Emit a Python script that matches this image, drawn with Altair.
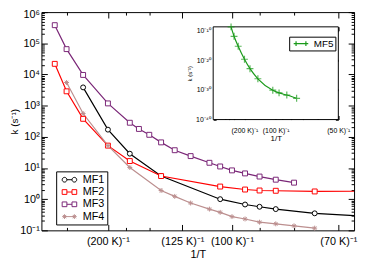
import altair as alt
import pandas as pd

# ---------------- data ----------------
series_main = ["MF1", "MF2", "MF3", "MF4"]
colors_main = ["#000000", "#ff0000", "#7a2677", "#bc8f8f"]

mf1_T = [250, 200, 170, 140, 105, 95, 90, 85, 75]
mf1_k = [3850, 170, 28.8, 5.52, 1.0, 0.675, 0.571, 0.481, 0.352]
mf1_tail_T = [67]
mf1_tail_k = [0.297]

mf2_T = [350, 300, 250, 200, 170, 140, 105, 95, 90, 85, 75]
mf2_k = [2.19e4, 2880, 378, 52.2, 16.7, 5.52, 2.54, 2.04, 1.90, 1.86, 1.77]
mf2_tail_T = [67]
mf2_tail_k = [1.8]

mf3_T = [350, 300, 250, 200, 170, 160, 150, 140, 130, 120, 110, 105, 100, 95, 90, 85, 80]
mf3_k = [3.81e5, 6.5e4, 9.66e3, 1.18e3, 283, 179, 116, 66.4, 37.2, 24.1, 14.7, 11.2,
         8.39, 6.71, 5.32, 4.22, 3.39]

mf4_T = [300, 250, 200, 170, 140, 130, 120, 110, 105, 100, 95, 90, 85, 80, 75]
mf4_k = [5520, 560, 52.2, 10.4, 1.90, 1.23, 0.752, 0.481, 0.378, 0.276, 0.232, 0.183,
         0.162, 0.140, 0.118]

mf5_T = [350, 300, 250, 200, 170, 140, 105, 95, 85, 75]
mf5_k = [2.0e-9, 1.3e-12, 5.5e-16, 2.3e-20, 1.5e-23, 5.9e-27, 8.3e-31, 1.0e-31, 1.9e-32, 1.5e-33]

main_x_ticks = [1 / 200, 1 / 125, 1 / 100, 1 / 70]
main_x_minor = [1 / 300, 1 / 175, 1 / 150, 1 / 90, 1 / 80]
inset_x_ticks = [1 / 200, 1 / 100, 1 / 50]
inset_x_minor = [1 / 500, 1 / 400, 1 / 300, 1 / 90, 1 / 80, 1 / 70, 1 / 60]
main_y_decades = [10.0 ** e for e in range(-1, 7)]
inset_y_decades = [1e-10, 1e-20, 1e-30, 1e-40]


def frame(name, T, k):
    return pd.DataFrame({"series": name, "T": T, "k": k})


pts = pd.concat([frame("MF1", mf1_T, mf1_k), frame("MF2", mf2_T, mf2_k),
                 frame("MF3", mf3_T, mf3_k), frame("MF4", mf4_T, mf4_k)], ignore_index=True)
lines = pd.concat([pts, frame("MF1", mf1_tail_T, mf1_tail_k),
                   frame("MF2", mf2_tail_T, mf2_tail_k)], ignore_index=True)
pts["invT"] = 1.0 / pts["T"]
lines["invT"] = 1.0 / lines["T"]
ins = frame("MF5", mf5_T, mf5_k)
ins["invT"] = 1.0 / ins["T"]

# ---------------- layout ----------------
W, H = 318, 222
XL, XR, YT, YB = 174.7, 302.0, 15.0, 109.3   # inset box inside the plot area
FONT = "Liberation Sans"

x_main = alt.Scale(domain=[0.00232, 0.01492], nice=False, zero=False)
y_main = alt.Scale(type="log", domain=[0.1, 1e6], nice=False)
x_ins = alt.Scale(domain=[0, 0.02], range=[XL, XR], nice=False, zero=False)
y_ins = alt.Scale(type="log", domain=[1e-40, 10 ** -8.7], range=[YB, YT], nice=False)

main_color = alt.Scale(domain=series_main, range=colors_main)
ins_color = alt.Scale(domain=["MF5"], range=["#1a9a1a"])

ast = "M-1,0H1M0,-1V1M-0.7,-0.7L0.7,0.7M-0.7,0.7L0.7,-0.7"
plus = "M-1,0H1M0,-1V1"


def circ(c, r):
    return f"M{c - r},0a{r},{r} 0 1,0 {2 * r},0a{r},{r} 0 1,0 {-2 * r},0"


def sq(c, r):
    return f"M{c - r},{-r}h{2 * r}v{2 * r}h{-2 * r}z"


def astk(c, r):
    d = r * 0.7
    return (f"M{c - r},0H{c + r}M{c},{-r}V{r}M{c - d},{-d}L{c + d},{d}"
            f"M{c - d},{d}L{c + d},{-d}")


C, R = 1.25, 0.6
leg_shapes = [
    circ(-C, R) + f"M{-C + R},0H{C - R}" + circ(C, R),
    sq(-C, R) + f"M{-C + R},0H{C - R}" + sq(C, R),
    sq(-C, R) + f"M{-C + R},0H{C - R}" + sq(C, R),
    astk(-C, R) + f"M{-C},0H{C}" + astk(C, R),
]
leg_shape_ins = [f"M{-C - R},0H{C + R}M{-C},{-R}V{R}M{C},{-R}V{R}"]

sup_map = list(zip("-0123456789", "⁻⁰¹²³⁴⁵⁶⁷⁸⁹"))


def sup_expr(s):
    e = s
    for d, c in sup_map:
        e = f"replace({e}, regexp('{d}', 'g'), '{c}')"
    return e


exp_str = "('' + round(log(datum.value) / LN10))"
y_label_expr = "'10' + " + sup_expr(exp_str)
x_label_expr = "'(' + round(1 / datum.value) + ' K)⁻¹'"

decade_test = "abs(log(datum.value)/LN10 - round(log(datum.value)/LN10)) < 0.001"
main_major_test = "indexof([200,125,100,70], round(1/datum.value)) >= 0"
ins_major_test = "indexof([200,100,50], round(1/datum.value)) >= 0"

y_main_ticks = [m * 10.0 ** e for e in range(-1, 6) for m in range(1, 10)] + [1e6]


def tick_axis(orient, offset, values, test, big, small, width=1):
    return alt.Axis(orient=orient, offset=offset, values=values, labels=False,
                    domain=False, grid=False, title=None, tickColor="black",
                    tickWidth=width,
                    tickSize={"condition": {"test": test, "value": big}, "value": small})


# ---------------- main plot ----------------
main_lines = alt.Chart(lines).mark_line(strokeWidth=1.2, clip=True).encode(
    x=alt.X("invT:Q", scale=x_main,
            axis=alt.Axis(orient="bottom", values=main_x_ticks, labelExpr=x_label_expr,
                          ticks=False, domain=False, grid=False, title="1/T",
                          labelFont=FONT, titleFont=FONT, labelFontSize=11,
                          titleFontSize=11, titleFontWeight="normal", labelPadding=5,
                          titlePadding=3, labelFlush=False, labelOverlap=False,
                          labelColor="black", titleColor="black")),
    y=alt.Y("k:Q", scale=y_main,
            axis=alt.Axis(orient="left", values=main_y_decades, labelExpr=y_label_expr,
                          ticks=False, domain=False, grid=False, title="k (s⁻¹)",
                          labelFont=FONT, titleFont=FONT, labelFontSize=11,
                          titleFontSize=10, titleFontWeight="normal", labelPadding=2,
                          titlePadding=0.5, labelFlush=False, labelOverlap=False,
                          labelOffset={"condition": {"test": "datum.value > 5e5", "value": 2.5},
                                       "value": 0},
                          labelColor="black", titleColor="black")),
    color=alt.Color("series:N", scale=main_color, legend=None),
)

main_points = alt.Chart(pts).mark_point(filled=False, fill="white", strokeWidth=1,
                                        opacity=1).encode(
    x=alt.X("invT:Q", scale=x_main,
            axis=tick_axis("top", -H, main_x_ticks + main_x_minor, main_major_test, 6, 3)),
    y=alt.Y("k:Q", scale=y_main,
            axis=tick_axis("right", -W, y_main_ticks, decade_test, 6, 3)),
    color=alt.Color("series:N", scale=main_color, legend=None),
    shape=alt.Shape("series:N", scale=alt.Scale(domain=series_main,
                                                range=["circle", "square", "square", ast]),
                    legend=None),
    size=alt.Size("series:N", scale=alt.Scale(domain=series_main, range=[25, 25, 25, 45]),
                  legend=None),
)

main_leg = alt.Legend(orient="none", legendX=15, legendY=162, title=None,
                      strokeColor="black", fillColor="white", padding=3,
                      labelFont=FONT, labelFontSize=11, labelColor="black",
                      symbolSize=64, symbolStrokeWidth=1, symbolOpacity=1,
                      symbolOffset=5, labelOffset=8, rowPadding=0.5, cornerRadius=0)

main_legend_layer = alt.Chart(pts).mark_point(filled=False).encode(
    x=alt.X("invT:Q", scale=x_main,
            axis=tick_axis("bottom", -H, main_x_ticks + main_x_minor, main_major_test, 6, 3)),
    y=alt.Y("k:Q", scale=y_main,
            axis=tick_axis("left", -W, y_main_ticks, decade_test, 6, 3)),
    color=alt.Color("series:N", scale=main_color, legend=main_leg),
    shape=alt.Shape("series:N", scale=alt.Scale(domain=series_main, range=leg_shapes),
                    legend=main_leg),
    opacity=alt.value(0),
)

# ---------------- inset ----------------
box = pd.DataFrame({"x0": [x_ins.domain[0]], "x1": [x_ins.domain[1]],
                    "y0": [y_ins.domain[0]], "y1": [y_ins.domain[1]]})

inset_box = alt.Chart(box).mark_rect(fill="white", stroke="black", strokeWidth=1).encode(
    x=alt.X("x0:Q", scale=x_ins,
            axis=alt.Axis(orient="bottom", offset=YB - H, values=inset_x_ticks,
                          labelExpr=x_label_expr, ticks=False, domain=False, grid=False,
                          title="1/T", labelFont=FONT, titleFont=FONT, labelFontSize=7,
                          titleFontSize=8, titleFontWeight="normal", labelPadding=7,
                          titlePadding=1, labelFlush=False, labelOverlap=False,
                          labelColor="black", titleColor="black")),
    x2="x1:Q",
    y=alt.Y("y0:Q", scale=y_ins,
            axis=alt.Axis(orient="left", offset=-XL, values=inset_y_decades,
                          labelExpr=y_label_expr, ticks=False, domain=False, grid=False,
                          title="k (s⁻¹)", labelFont=FONT, titleFont=FONT,
                          labelFontSize=7, titleFontSize=6, titleFontWeight="normal",
                          labelPadding=3, titlePadding=3, labelFlush=False,
                          labelOverlap=False, labelColor="black", titleColor="black")),
    y2="y1:Q",
)

inset_line = alt.Chart(ins).mark_line(strokeWidth=1.2, interpolate="monotone").encode(
    x=alt.X("invT:Q", scale=x_ins,
            axis=tick_axis("top", -YB, inset_x_ticks + inset_x_minor, ins_major_test, 4, 2.5, 1.5)),
    y=alt.Y("k:Q", scale=y_ins,
            axis=tick_axis("right", XL - W, inset_y_decades, decade_test, 3, 2, 2)),
    color=alt.Color("series:N", scale=ins_color, legend=None),
)

inset_points = alt.Chart(ins).mark_point(filled=False, strokeWidth=1.2, size=49,
                                         shape=plus).encode(
    x=alt.X("invT:Q", scale=x_ins,
            axis=tick_axis("bottom", YT - H, inset_x_ticks + inset_x_minor, ins_major_test, 4, 2.5, 1.5)),
    y=alt.Y("k:Q", scale=y_ins,
            axis=tick_axis("left", -XR, inset_y_decades, decade_test, 3, 2, 2)),
    color=alt.Color("series:N", scale=ins_color, legend=None),
)

ins_leg = alt.Legend(orient="none", legendX=252, legendY=25, title=None,
                     strokeColor="black", fillColor="white", padding=2,
                     labelFont=FONT, labelFontSize=10, labelColor="black",
                     symbolSize=64, symbolStrokeWidth=1.2, symbolOpacity=1,
                     symbolOffset=5, labelOffset=8, cornerRadius=0)

inset_legend_layer = alt.Chart(ins).mark_point(filled=False).encode(
    x=alt.X("invT:Q", scale=x_ins, axis=None),
    y=alt.Y("k:Q", scale=y_ins, axis=None),
    color=alt.Color("series:N", scale=ins_color, legend=ins_leg),
    shape=alt.Shape("series:N", scale=alt.Scale(domain=["MF5"], range=leg_shape_ins),
                    legend=ins_leg),
    opacity=alt.value(0),
)

chart = alt.layer(
    main_lines, main_points, main_legend_layer,
    inset_box, inset_line, inset_points, inset_legend_layer,
).resolve_scale(
    x="independent", y="independent", color="independent", shape="independent",
    size="independent",
).resolve_axis(
    x="independent", y="independent",
).resolve_legend(
    color="independent", shape="independent", size="independent",
).properties(
    width=W, height=H,
    padding={"left": 34, "top": 2, "right": 4, "bottom": 30},
    autosize=alt.AutoSizeParams(type="none"),
    background="white",
).configure_view(stroke="black", strokeWidth=1)

chart.save("out.html", embed_options={"renderer": "svg", "actions": False})
